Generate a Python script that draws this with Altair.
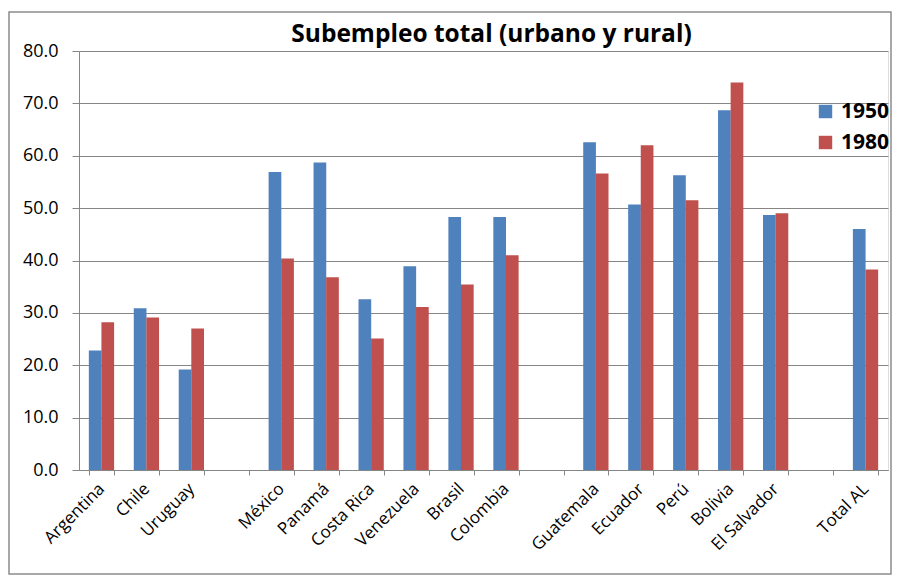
import altair as alt
import pandas as pd

countries = ["Argentina", "Chile", "Uruguay", "México", "Panamá", "Costa Rica",
             "Venezuela", "Brasil", "Colombia", "Guatemala", "Ecuador", "Perú",
             "Bolivia", "El Salvador", "Total AL"]
v1950 = [22.8, 30.9, 19.2, 56.9, 58.7, 32.6, 38.9, 48.3, 48.3, 62.6, 50.7, 56.3, 68.7, 48.7, 46.0]
v1980 = [28.2, 29.1, 27.0, 40.4, 36.8, 25.1, 31.1, 35.4, 41.0, 56.6, 62.0, 51.5, 74.0, 49.0, 38.3]
series = ["1950", "1980"]
colors = ["#4F81BD", "#C0504D"]
slot_order = ["Argentina", "Chile", "Uruguay", " ", "México", "Panamá", "Costa Rica",
              "Venezuela", "Brasil", "Colombia", "  ", "Guatemala", "Ecuador", "Perú",
              "Bolivia", "El Salvador", "   ", "Total AL"]
y_ticks = [0, 10, 20, 30, 40, 50, 60, 70, 80]

rows = []
for c, a, b in zip(countries, v1950, v1980):
    rows.append({"pais": c, "anio": series[0], "valor": a})
    rows.append({"pais": c, "anio": series[1], "valor": b})
df = pd.DataFrame(rows)

FONT = "Open Sans"
GRID = "#868686"

bars = alt.Chart(df).mark_bar(size=12.7).encode(
    x=alt.X("pais:N", sort=slot_order,
            scale=alt.Scale(domain=slot_order, paddingInner=0.44, paddingOuter=0.22),
            axis=alt.Axis(title=None, labelAngle=-45, labelAlign="right",
                          labelBaseline="middle", labelPadding=11, labelFontSize=17,
                          labelFont=FONT, labelColor="#000000", tickBand="extent",
                          tickSize=5, tickColor=GRID, domainColor=GRID, grid=False,
                          labelOverlap=False)),
    xOffset=alt.XOffset("anio:N", scale=alt.Scale(domain=series, paddingInner=0, paddingOuter=0)),
    y=alt.Y("valor:Q", scale=alt.Scale(domain=[0, 80], nice=False),
            axis=alt.Axis(title=None, values=y_ticks, format=".1f", labelFontSize=18,
                          labelFont=FONT, labelColor="#000000", tickSize=7,
                          labelPadding=14, tickColor=GRID, domainColor=GRID,
                          gridColor=GRID, gridWidth=1)),
    color=alt.Color("anio:N", scale=alt.Scale(domain=series, range=colors),
                    legend=alt.Legend(title=None, orient="none", legendX=736, legendY=50,
                                      symbolType="square", symbolSize=180,
                                      symbolStrokeWidth=0, labelFontSize=21,
                                      labelFont=FONT, labelFontWeight="bold",
                                      labelColor="#000000", rowPadding=9,
                                      labelOffset=5)),
)

border = alt.Chart(pd.DataFrame({"k": [0]})).mark_rect(
    fill=None, stroke="#8c8c8c", strokeWidth=1.5
).encode(x=alt.value(-70), x2=alt.value(812), y=alt.value(-39), y2=alt.value(523))

chart = alt.layer(border, bars).properties(
    width=809, height=419,
    title=alt.TitleParams("Subempleo total (urbano y rural)", font=FONT, fontSize=24.5,
                          fontWeight="bold", color="#000000", offset=6, dx=8, dy=42),
    autosize=alt.AutoSizeParams(type="none"),
    padding={"left": 71, "top": 43, "right": 6, "bottom": 106},
).configure_view(stroke=None).configure(background="white")

chart.save("out.html", embed_options={"renderer": "svg", "actions": False})
